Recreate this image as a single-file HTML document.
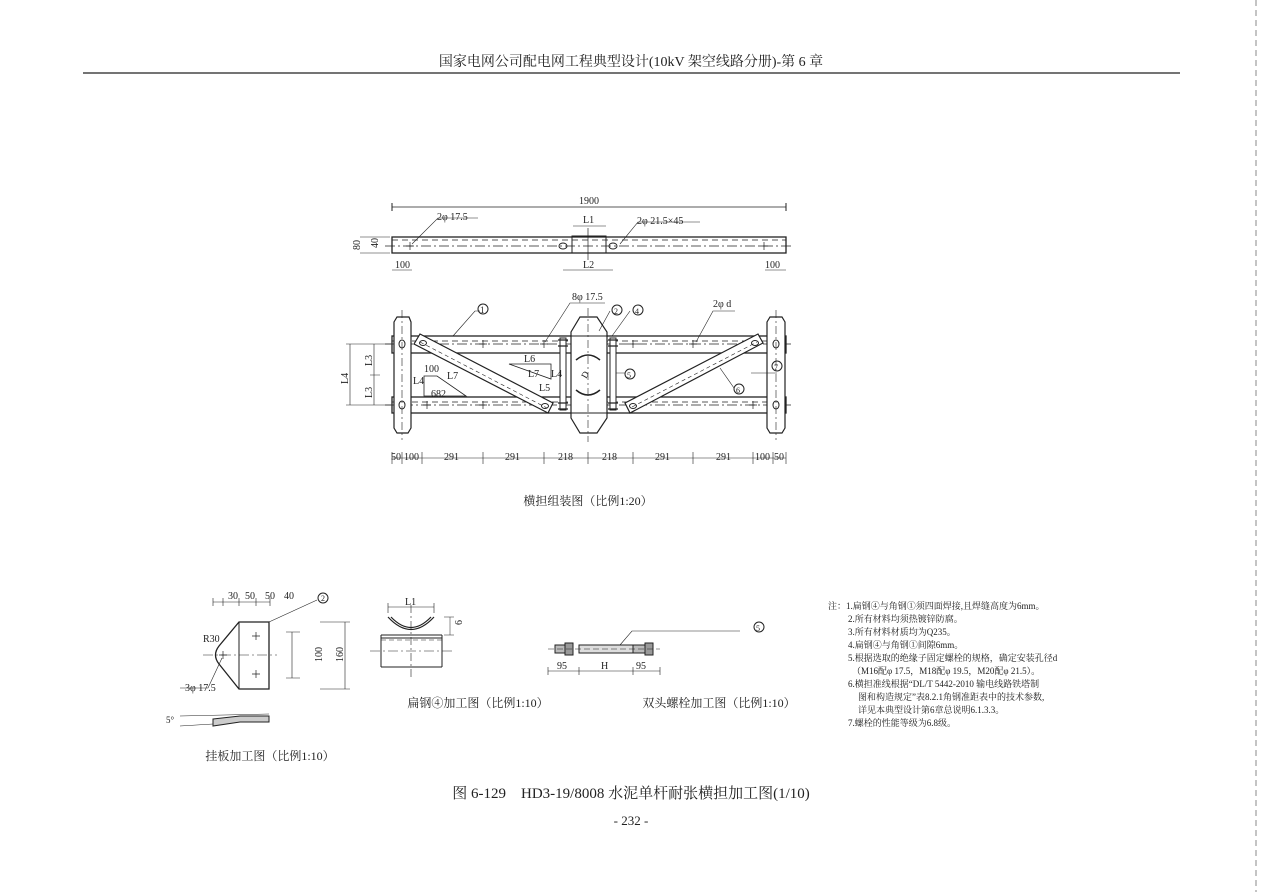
<!DOCTYPE html>
<html><head><meta charset="utf-8"><style>
html,body{margin:0;padding:0;background:#fff}
svg{display:block}
text{font-family:"Liberation Serif","Noto Serif CJK SC","Noto Sans CJK SC",serif;fill:#222}
</style></head><body>
<svg width="1262" height="892" viewBox="0 0 1262 892" xmlns="http://www.w3.org/2000/svg">
<g stroke="#222" fill="none" stroke-width="1">
<line x1="83" y1="73" x2="1180" y2="73" stroke-width="1.3"/>
<line x1="1256" y1="0" x2="1256" y2="892" stroke-dasharray="6,4" stroke="#888"/>

<!-- TOP VIEW -->
<line x1="392" y1="207" x2="786" y2="207" stroke-width=".7"/>
<line x1="392" y1="203" x2="392" y2="211"/><line x1="786" y1="203" x2="786" y2="211"/>
<rect x="392" y="237" width="394" height="16" stroke-width="1.3"/>
<line x1="392" y1="240" x2="786" y2="240" stroke-dasharray="6,4" stroke-width=".7"/>
<line x1="385" y1="246" x2="792" y2="246" stroke-dasharray="10,3,2,3" stroke-width=".7"/>
<rect x="572" y="236" width="34" height="17" stroke-width="1"/>
<line x1="588" y1="228" x2="588" y2="260" stroke-width=".7"/>
<ellipse cx="563" cy="246" rx="4" ry="3"/><ellipse cx="613" cy="246" rx="4" ry="3"/>
<path d="M410 242v8M406 246h8M764 242v8M760 246h8" stroke-width=".7"/>
<path d="M412 244 L438 218 H478 M620 244 L638 222 H700" stroke-width=".6"/>
<line x1="573" y1="226" x2="606" y2="226" stroke-width=".6"/>
<line x1="563" y1="270" x2="613" y2="270" stroke-width=".6"/>
<line x1="392" y1="270" x2="412" y2="270" stroke-width=".6"/>
<line x1="765" y1="270" x2="786" y2="270" stroke-width=".6"/>
<line x1="360" y1="237" x2="390" y2="237" stroke-width=".5"/>
<line x1="360" y1="253" x2="390" y2="253" stroke-width=".5"/>

<!-- ASSEMBLY -->
<rect x="392" y="336" width="394" height="17" stroke-width="1.3"/>
<rect x="392" y="397" width="394" height="16" stroke-width="1.3"/>
<line x1="392" y1="341" x2="786" y2="341" stroke-dasharray="6,4" stroke-width=".7"/>
<line x1="392" y1="402" x2="786" y2="402" stroke-dasharray="6,4" stroke-width=".7"/>
<line x1="385" y1="344" x2="792" y2="344" stroke-dasharray="10,3,2,3" stroke-width=".7"/>
<line x1="385" y1="405" x2="792" y2="405" stroke-dasharray="10,3,2,3" stroke-width=".7"/>
<path d="M397 317 H409 L411 322 V428 L408 433 H397 L394 428 V322 Z" fill="#fff" stroke-width="1.2"/>
<path d="M770 317 H782 L785 322 V428 L782 433 H770 L767 428 V322 Z" fill="#fff" stroke-width="1.2"/>
<line x1="402" y1="310" x2="402" y2="440" stroke-dasharray="8,3,2,3" stroke-width=".6"/>
<line x1="776" y1="310" x2="776" y2="440" stroke-dasharray="8,3,2,3" stroke-width=".6"/>
<ellipse cx="402" cy="344" rx="3" ry="4"/><ellipse cx="402" cy="405" rx="3" ry="4"/>
<ellipse cx="776" cy="344" rx="3" ry="4"/><ellipse cx="776" cy="405" rx="3" ry="4"/>
<path d="M580 317 H597 L607 332 V418 L597 433 H580 L571 418 V332 Z" fill="#fff" stroke-width="1.2"/>
<line x1="588" y1="308" x2="588" y2="442" stroke-dasharray="8,3,2,3" stroke-width=".6"/>
<line x1="571" y1="336" x2="607" y2="336"/><line x1="571" y1="413" x2="607" y2="413"/>
<path d="M576 360 Q588 350 600 360 M576 390 Q588 400 600 390" stroke-width="1.5"/>
<rect x="560" y="338" width="6" height="72" fill="#fff"/>
<rect x="610" y="338" width="6" height="72" fill="#fff"/>
<path d="M558 340h10M558 346h10M558 403h10M558 409h10M608 340h10M608 346h10M608 403h10M608 409h10" stroke-width="1.2"/>
<polygon points="414,344 420,334 553,403 548,413" fill="#fff" stroke-width="1.2"/>
<line x1="420" y1="342" x2="547" y2="408" stroke-dasharray="4,3" stroke-width=".6"/>
<polygon points="625,403 758,334 763,343 630,413" fill="#fff" stroke-width="1.2"/>
<line x1="632" y1="407" x2="757" y2="342" stroke-dasharray="4,3" stroke-width=".6"/>
<ellipse cx="423" cy="343" rx="3.5" ry="2.5"/><ellipse cx="545" cy="406" rx="3.5" ry="2.5"/>
<ellipse cx="633" cy="406" rx="3.5" ry="2.5"/><ellipse cx="755" cy="343" rx="3.5" ry="2.5"/>
<path d="M423 405h8M427 401v8M483 340v8M479 344h8M544 340v8M540 344h8M483 401v8M479 405h8M633 340v8M629 344h8M693 340v8M689 344h8M753 401v8M749 405h8" stroke-width=".7"/>
<polygon points="424,376 437,376 466,396 424,396" stroke-width=".8"/>
<polygon points="509,364 551,364 551,379" stroke-width=".8"/>
<path d="M453 336 L475 311 H480 M545 342 L570 303 H605 M599 331 L610 311 M612 336 L630 311 M696 342 L713 311 H735 M751 373 L777 373 M720 368 L734 388 M616 373 H625" stroke-width=".6"/>
<circle cx="483" cy="309" r="5"/><circle cx="617" cy="310" r="5"/><circle cx="638" cy="310" r="5"/>
<circle cx="630" cy="374" r="5"/><circle cx="739" cy="389" r="5"/><circle cx="777" cy="366" r="5"/>
<line x1="350" y1="344" x2="350" y2="405" stroke-width=".6"/>
<line x1="374" y1="344" x2="374" y2="405" stroke-width=".6"/>
<path d="M346 344h45M346 405h45M370 375h10" stroke-width=".5"/>
<line x1="392" y1="458" x2="786" y2="458" stroke-width=".6"/>
<path d="M392 452v12M402 452v12M422 452v12M483 452v12M544 452v12M588 452v12M633 452v12M693 452v12M753 452v12M773 452v12M786 452v12" stroke-width=".6"/>

<!-- 挂板 -->
<path d="M239 622 H269 V689 H239 L219 664 Q212 655 219 646 Z" stroke-width="1.3"/>
<line x1="239" y1="622" x2="239" y2="689"/>
<line x1="203" y1="655" x2="277" y2="655" stroke-dasharray="10,3,2,3" stroke-width=".6"/>
<path d="M223 651v8M219 655h8M256 632v8M252 636h8M256 670v8M252 674h8" stroke-width=".7"/>
<line x1="213" y1="602" x2="270" y2="602" stroke-width=".6"/>
<path d="M213 598v8M223 598v8M239 598v8M256 598v8M270 598v8" stroke-width=".6"/>
<path d="M269 622 L317 600" stroke-width=".6"/><circle cx="323" cy="598" r="5"/>
<path d="M222 658 L208 688 H180" stroke-width=".6"/>
<line x1="292" y1="632" x2="292" y2="678" stroke-width=".6"/>
<line x1="345" y1="622" x2="345" y2="689" stroke-width=".6"/>
<path d="M286 632h14M286 678h14M320 622h30M320 689h30" stroke-width=".5"/>
<path d="M213 719 L240 716 H269 V722 H240 L213 726 Z" fill="#ccc" stroke-width="1"/>
<path d="M180 716 L269 714 M180 726 L213 724" stroke-width=".5"/>

<!-- 扁钢 -->
<line x1="388" y1="607" x2="434" y2="607" stroke-width=".6"/>
<path d="M388 603v10M434 603v10" stroke-width=".6"/>
<path d="M388 617 Q411 642 434 617 M391 617 Q411 638 431 617" stroke-width="1.2"/>
<path d="M381 635 H442 M381 638 H442 M381 667 H442 M381 635 V667 M442 635 V667" stroke-width="1"/>
<line x1="381" y1="640" x2="442" y2="640" stroke-dasharray="5,3" stroke-width=".6"/>
<line x1="370" y1="651" x2="455" y2="651" stroke-dasharray="10,3,2,3" stroke-width=".6"/>
<line x1="411" y1="605" x2="411" y2="680" stroke-dasharray="8,3,2,3" stroke-width=".6"/>
<path d="M450 617v18M444 617h10M444 635h10" stroke-width=".5"/>

<!-- bolt -->
<rect x="555" y="645" width="15" height="8" fill="#bbb"/>
<rect x="565" y="643" width="8" height="12" fill="#999"/>
<rect x="633" y="645" width="15" height="8" fill="#bbb"/>
<rect x="645" y="643" width="8" height="12" fill="#999"/>
<rect x="579" y="645" width="54" height="8" fill="#ddd"/>
<line x1="548" y1="649" x2="660" y2="649" stroke-dasharray="6,3" stroke-width=".6"/>
<path d="M620 645 L632 631 H740" stroke-width=".6"/><circle cx="759" cy="627" r="5"/>
<line x1="548" y1="671" x2="660" y2="671" stroke-width=".6"/>
<path d="M548 667v8M579 667v8M633 667v8M660 667v8" stroke-width=".6"/>
</g>

<g font-size="10">
<text x="631" y="66" text-anchor="middle" font-size="14" font-family="Liberation Mono,Noto Sans CJK SC,monospace">国家电网公司配电网工程典型设计(10kV 架空线路分册)-第 6 章</text>
<text x="589" y="204" text-anchor="middle">1900</text>
<text x="437" y="220">2φ 17.5</text>
<text x="637" y="224">2φ 21.5×45</text>
<text x="583" y="223">L1</text>
<text x="583" y="268">L2</text>
<text x="395" y="268">100</text>
<text x="765" y="268">100</text>
<text x="360" y="250" transform="rotate(-90 360 250)">80</text>
<text x="378" y="248" transform="rotate(-90 378 248)">40</text>
<text x="572" y="300">8φ 17.5</text>
<text x="713" y="307">2φ d</text>
<text x="480" y="313" font-size="9">1</text>
<text x="614" y="314" font-size="8">2</text><text x="635" y="314" font-size="8">4</text>
<text x="627" y="378" font-size="8">5</text><text x="736" y="393" font-size="8">6</text><text x="774" y="370" font-size="8">7</text>
<text x="424" y="372">100</text><text x="447" y="379">L7</text><text x="413" y="384">L4</text><text x="431" y="397">682</text>
<text x="524" y="362">L6</text><text x="528" y="377">L7</text><text x="551" y="377">L4</text><text x="539" y="391">L5</text>
<text x="586" y="379" font-size="9" transform="rotate(-60 586 379)">D</text>
<text x="348" y="384" transform="rotate(-90 348 384)">L4</text>
<text x="372" y="366" transform="rotate(-90 372 366)">L3</text>
<text x="372" y="398" transform="rotate(-90 372 398)">L3</text>
<text x="391" y="460">50</text><text x="404" y="460">100</text><text x="444" y="460">291</text><text x="505" y="460">291</text>
<text x="558" y="460">218</text><text x="602" y="460">218</text><text x="655" y="460">291</text><text x="716" y="460">291</text>
<text x="755" y="460">100</text><text x="774" y="460">50</text>
<text x="588" y="505" text-anchor="middle" font-size="12">横担组装图（比例1:20）</text>
<text x="228" y="599">30</text><text x="245" y="599">50</text><text x="265" y="599">50</text><text x="284" y="599">40</text>
<text x="321" y="601" font-size="8">2</text>
<text x="203" y="642">R30</text>
<text x="185" y="691">3φ 17.5</text>
<text x="322" y="662" transform="rotate(-90 322 662)">100</text>
<text x="343" y="662" transform="rotate(-90 343 662)">160</text>
<text x="166" y="723" font-size="9">5°</text>
<text x="270" y="760" text-anchor="middle" font-size="12">挂板加工图（比例1:10）</text>
<text x="405" y="605">L1</text>
<text x="462" y="625" transform="rotate(-90 462 625)">6</text>
<text x="478" y="707" text-anchor="middle" font-size="12">扁钢④加工图（比例1:10）</text>
<text x="756" y="631" font-size="8">5</text>
<text x="557" y="669">95</text><text x="601" y="669">H</text><text x="636" y="669">95</text>
<text x="719" y="707" text-anchor="middle" font-size="12">双头螺栓加工图（比例1:10）</text>
<g font-size="9">
<text x="828" y="609">注：1.扁钢④与角钢①须四面焊接,且焊缝高度为6mm。</text>
<text x="848" y="622">2.所有材料均须热镀锌防腐。</text>
<text x="848" y="635">3.所有材料材质均为Q235。</text>
<text x="848" y="648">4.扁钢④与角钢①间隙6mm。</text>
<text x="848" y="661">5.根据选取的绝缘子固定螺栓的规格，确定安装孔径d</text>
<text x="852" y="674">（M16配φ 17.5，M18配φ 19.5，M20配φ 21.5）。</text>
<text x="848" y="687">6.横担准线根据“DL/T 5442-2010 输电线路铁塔制</text>
<text x="858" y="700">图和构造规定”表8.2.1角钢准距表中的技术参数,</text>
<text x="858" y="713">详见本典型设计第6章总说明6.1.3.3。</text>
<text x="848" y="726">7.螺栓的性能等级为6.8级。</text>
</g>
<text x="631" y="798" text-anchor="middle" font-size="15" font-family="Liberation Sans,Noto Sans CJK SC,sans-serif">图 6-129　HD3-19/8008 水泥单杆耐张横担加工图(1/10)</text>
<text x="631" y="825" text-anchor="middle" font-size="13">- 232 -</text>
</g>
</svg>
</body></html>
